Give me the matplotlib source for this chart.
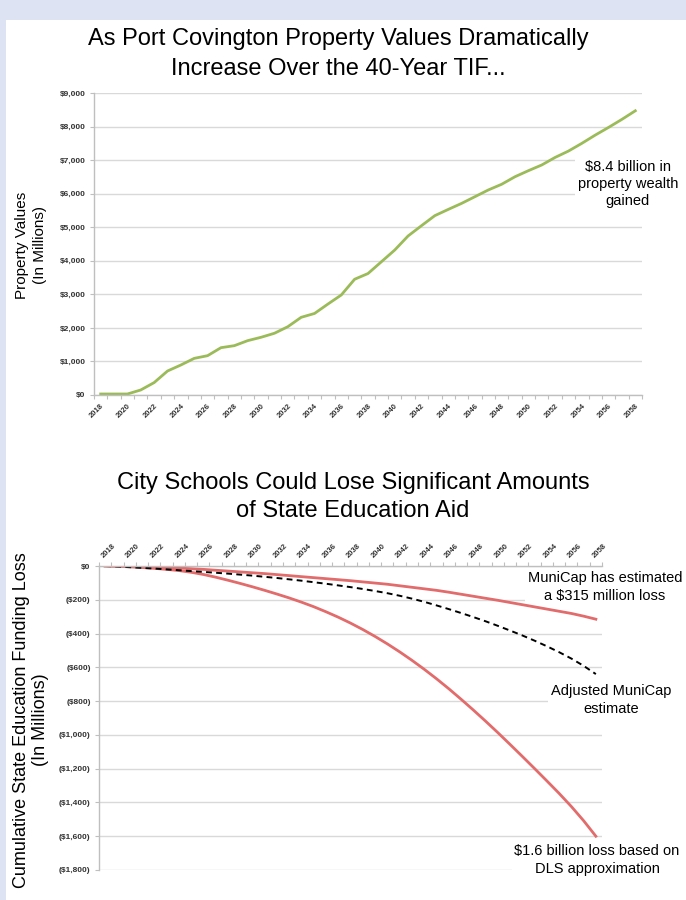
import numpy as np
import matplotlib
matplotlib.use("Agg")
import matplotlib.pyplot as plt
from matplotlib.patches import Rectangle

plt.rcParams['font.family'] = ['Liberation Sans', 'DejaVu Sans']

# data
years = list(range(2018, 2059))

property_values = [30, 30, 30, 150, 370, 715, 894, 1092, 1172, 1410,
                   1470, 1620, 1720, 1840, 2035, 2315, 2430, 2710, 2980, 3450,
                   3620, 3970, 4320, 4740, 5045, 5345, 5530, 5710, 5910, 6110,
                   6280, 6505, 6685, 6855, 7080, 7270, 7500, 7745, 7975, 8215,
                   8470]

municap_loss = [0, -1, -2, -4, -6, -9, -12, -16, -20, -25,
                -30, -35, -40, -45, -51, -57, -63, -69, -75, -81,
                -87, -94, -101, -108, -117, -126, -135, -144, -155, -167,
                -179, -191, -203, -216, -229, -242, -255, -268, -281, -297,
                -315]

adjusted_loss = [0, -3, -7, -11, -15, -20, -25, -30, -35, -40,
                 -45, -51, -57, -64, -71, -79, -87, -96, -105, -115,
                 -125, -136, -148, -161, -176, -193, -212, -233, -255, -278,
                 -302, -327, -354, -382, -411, -442, -475, -510, -548, -591,
                 -640]

dls_loss = [0, -2, -5, -9, -14, -20, -27, -37, -50, -66,
            -84, -103, -123, -144, -166, -189, -214, -241, -271, -303,
            -338, -376, -417, -461, -508, -558, -611, -667, -726, -788,
            -852, -918, -986, -1056, -1127, -1199, -1272, -1346, -1424, -1508,
            -1600]

top_ticks = list(range(0, 9001, 1000))
bottom_ticks = list(range(-1800, 1, 200))

GREEN = '#9bbb59'
RED = '#e26b6b'
GRID = '#d9d9d9'
AXIS = '#bfbfbf'
TICKTXT = '#333333'

W, H = 686, 900


def fx(px):
    return px / W


def fy(py):
    return 1 - py / H


def style_category_axis(ax, labels_on_top):
    x = np.arange(len(years))
    ax.set_xlim(-0.5, len(years) - 0.5)
    ax.set_xticks(x[::2])
    if labels_on_top:
        ax.xaxis.tick_top()
        ax.set_xticklabels(years[::2], rotation=45, ha='left', va='bottom',
                           rotation_mode='anchor', fontweight='bold',
                           fontsize=5.5, color=TICKTXT)
    else:
        ax.set_xticklabels(years[::2], rotation=45, ha='right', va='top',
                           rotation_mode='anchor', fontweight='bold',
                           fontsize=5.5, color=TICKTXT)
    ax.set_xticks(np.arange(-0.5, len(years), 1), minor=True)
    ax.tick_params(axis='x', which='major', length=0, pad=5)
    ax.tick_params(axis='x', which='minor', length=3, color=AXIS, width=0.8)
    ax.tick_params(axis='y', length=3, color=AXIS, width=0.8, pad=3)
    ax.grid(axis='y', color=GRID, lw=1)
    ax.set_axisbelow(True)
    for s in ax.spines.values():
        s.set_color(AXIS)
        s.set_linewidth(1)


def note(ax, xpx, ypx, txt):
    # white box sits over the gridlines but under the data lines
    ax.text(fx(xpx), fy(ypx), txt, transform=ax.figure.transFigure,
            ha='center', va='center', fontsize=10.5, multialignment='center',
            linespacing=1.3, zorder=1.5, clip_on=False,
            bbox=dict(facecolor='white', edgecolor='none', pad=2))


fig = plt.figure(figsize=(W / 100, H / 100), dpi=100)
fig.patch.set_facecolor('#dde3f3')
fig.add_artist(Rectangle((fx(6), 0), 1, fy(20), transform=fig.transFigure,
                         facecolor='white', edgecolor='none', zorder=-1))

# ---- top chart: property values ----
ax1 = fig.add_axes([fx(94), fy(395), fx(642 - 94), (395 - 93) / H])
ax1.plot(np.arange(len(years)), property_values, color=GREEN, lw=2,
         solid_joinstyle='round', zorder=2)
ax1.set_ylim(0, 9000)
ax1.set_yticks(top_ticks)
ax1.set_yticklabels([f"${v:,}" for v in top_ticks], fontsize=6,
                    fontweight='bold', color=TICKTXT)
style_category_axis(ax1, labels_on_top=False)
ax1.spines['top'].set_visible(False)
ax1.spines['right'].set_visible(False)

fig.text(fx(338), fy(54),
         "As Port Covington Property Values Dramatically\nIncrease Over the 40-Year TIF...",
         ha='center', va='center', fontsize=17, color='black', linespacing=1.45)
fig.text(fx(31), fy(245), "Property Values\n(In Millions)", rotation=90,
         ha='center', va='center', fontsize=11, multialignment='center',
         linespacing=1.35)
note(ax1, 628, 184, "$8.4 billion in\nproperty wealth\ngained")

# ---- bottom chart: state aid loss ----
ax2 = fig.add_axes([fx(99), fy(870), fx(602 - 99), (870 - 566) / H])
xs = np.arange(len(years))
ax2.plot(xs, municap_loss, color=RED, lw=2, zorder=2)
ax2.plot(xs, dls_loss, color=RED, lw=2, zorder=2)
ax2.plot(xs, adjusted_loss, color='black', lw=1.4, dashes=(3, 2.2), zorder=2)
ax2.set_ylim(-1800, 0)
ax2.set_yticks(bottom_ticks)
ax2.set_yticklabels(["$0" if v == 0 else f"(${-v:,})" for v in bottom_ticks],
                    fontsize=6, fontweight='bold', color=TICKTXT)
style_category_axis(ax2, labels_on_top=True)
ax2.spines['bottom'].set_visible(False)
ax2.spines['right'].set_visible(False)

fig.text(fx(353), fy(497),
         "City Schools Could Lose Significant Amounts\nof State Education Aid",
         ha='center', va='center', fontsize=17, color='black', linespacing=1.3)
fig.text(fx(31), fy(720), "Cumulative State Education Funding Loss\n(In Millions)",
         rotation=90, ha='center', va='center', fontsize=13,
         multialignment='center', linespacing=1.2)

note(ax2, 605, 587, "MuniCap has estimated\na $315 million loss")
note(ax2, 611, 700, "Adjusted MuniCap\nestimate")
note(ax2, 597, 860, "$1.6 billion loss based on\nDLS approximation")

fig.savefig("out.png", dpi=100, facecolor=fig.get_facecolor())
